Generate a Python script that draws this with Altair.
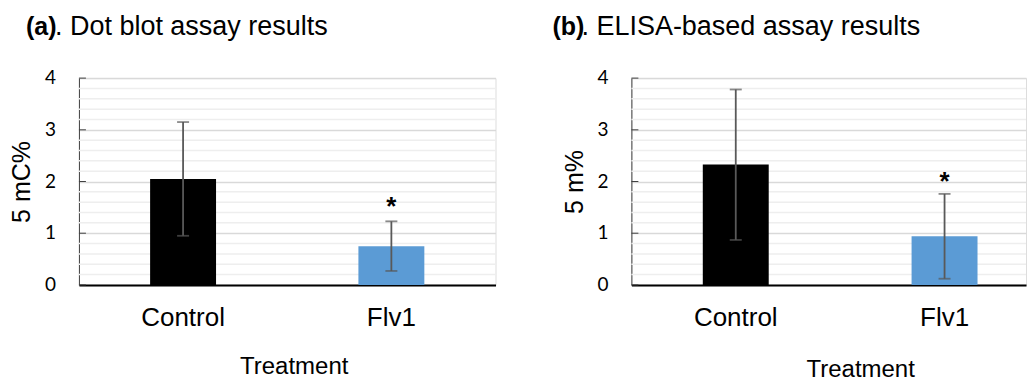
import altair as alt
import pandas as pd

categories = ["Control", "Flv1"]
bar_colors = ["#000000", "#5b9bd5"]

dot_mean = [2.05, 0.75]
dot_lo = [0.95, 0.27]
dot_hi = [3.15, 1.23]
dot_star = [None, 1.57]

elisa_mean = [2.33, 0.94]
elisa_lo = [0.87, 0.12]
elisa_hi = [3.78, 1.76]
elisa_star = [None, 2.05]

major_ticks = [0, 1, 2, 3, 4]
minor_ticks = [0.2, 0.4, 0.6, 0.8, 1.2, 1.4, 1.6, 1.8, 2.2, 2.4, 2.6, 2.8,
               3.2, 3.4, 3.6, 3.8]

panel_tags = ["(a)", "(b)"]
panel_titles = [". Dot blot assay results", ". ELISA-based assay results"]
y_titles = ["5 mC%", "5 m%"]
x_title = "Treatment"

H = 207
FONT = "Liberation Sans"


def panel(tag, title, ytitle, mean, lo, hi, star, width, band, xt_x, xt_pad):
    df = pd.DataFrame({"cat": categories, "mean": mean, "lo": lo, "hi": hi,
                       "star_y": star,
                       "star": ["*" if s is not None else "" for s in star]})
    yscale = alt.Scale(domain=[0, 4], nice=False, zero=True)
    yaxis = alt.Axis(values=major_ticks, title=ytitle,
                     titleFont=FONT, titleFontSize=25, titleFontWeight="normal",
                     titleColor="black", titlePadding=44,
                     labels=False, ticks=False,
                     domainColor="#404040", domainWidth=1,
                     grid=True, gridColor="#d9d9d9", gridWidth=1.5)
    xscale = alt.Scale(domain=categories, paddingInner=band[0],
                       paddingOuter=band[1], align=band[2])
    xaxis = alt.Axis(title=x_title, titleFont=FONT, titleFontSize=24,
                     titleFontWeight="normal", titleColor="black",
                     titlePadding=xt_pad, titleX=xt_x,
                     labelFont=FONT, labelFontSize=26, labelColor="black",
                     labelAngle=0, labelPadding=20, ticks=False,
                     domainColor="black", domainWidth=2, grid=False)
    X = alt.X("cat:N", scale=xscale, axis=xaxis, sort=categories)

    minor = alt.Chart(pd.DataFrame({"v": minor_ticks})).mark_rule(
        color="#eeeeee", strokeWidth=1.5).encode(
        y=alt.Y("v:Q", scale=yscale, axis=yaxis))
    inticks = alt.Chart(pd.DataFrame({"v": major_ticks})).mark_rule(
        color="#404040", strokeWidth=1).encode(
        y=alt.Y("v:Q", scale=yscale, axis=yaxis),
        x=alt.value(0), x2=alt.value(7))
    ylabels = alt.Chart(pd.DataFrame({"v": major_ticks})).mark_text(
        font="Lato", fontSize=19, align="right", baseline="middle",
        color="black").encode(
        y=alt.Y("v:Q", scale=yscale, axis=yaxis),
        x=alt.value(-23), text=alt.Text("v:Q", format="d"))
    bars = alt.Chart(df).mark_bar(size=66).encode(
        x=X,
        y=alt.Y("mean:Q", scale=yscale, axis=yaxis),
        color=alt.Color("cat:N", scale=alt.Scale(domain=categories,
                                                 range=bar_colors),
                        legend=None))
    err = alt.Chart(df).mark_rule(color="#595959", strokeWidth=1.8).encode(
        x=X, y=alt.Y("lo:Q", scale=yscale, axis=yaxis), y2="hi:Q")
    cap_hi = alt.Chart(df).mark_tick(color="#595959", size=12,
                                     thickness=1.8).encode(
        x=X, y=alt.Y("hi:Q", scale=yscale, axis=yaxis))
    cap_lo = alt.Chart(df).mark_tick(color="#595959", size=12,
                                     thickness=1.8).encode(
        x=X, y=alt.Y("lo:Q", scale=yscale, axis=yaxis))
    stars = alt.Chart(df).mark_text(font=FONT, fontSize=26, fontWeight="bold",
                                    baseline="middle", dy=3,
                                    color="black").encode(
        x=X, y=alt.Y("star_y:Q", scale=yscale, axis=yaxis), text="star:N")
    t_tag = alt.Chart(pd.DataFrame({"t": [tag]})).mark_text(
        font=FONT, fontSize=25, fontWeight="bold", align="left",
        baseline="alphabetic", color="black").encode(
        x=alt.value(title_x[tag]), y=alt.value(-43), text="t:N")
    t_main = alt.Chart(pd.DataFrame({"t": [title]})).mark_text(
        font=FONT, fontSize=27, align="left", baseline="alphabetic",
        color="black").encode(
        x=alt.value(title_x[tag] + 29), y=alt.value(-43), text="t:N")
    return alt.layer(minor, inticks, ylabels, bars, err, cap_hi, cap_lo,
                     stars, t_tag, t_main).properties(width=width, height=H)


title_x = {"(a)": -53, "(b)": -79}

pa = panel(panel_tags[0], panel_titles[0], y_titles[0], dot_mean, dot_lo,
           dot_hi, dot_star, 417, (0, 0, 0.5), 215, 24)
pb = panel(panel_tags[1], panel_titles[1], y_titles[1], elisa_mean, elisa_lo,
           elisa_hi, elisa_star, 395, (0.6, 0.245, 0.612), 229, 27)

chart = alt.hconcat(pa, pb, spacing=136, bounds="flush").properties(
    padding={"left": 1, "top": 4, "right": 0, "bottom": 0}
).configure_view(stroke=None).configure(background="white")

chart.save("out.html", embed_options={"renderer": "svg", "actions": False})
